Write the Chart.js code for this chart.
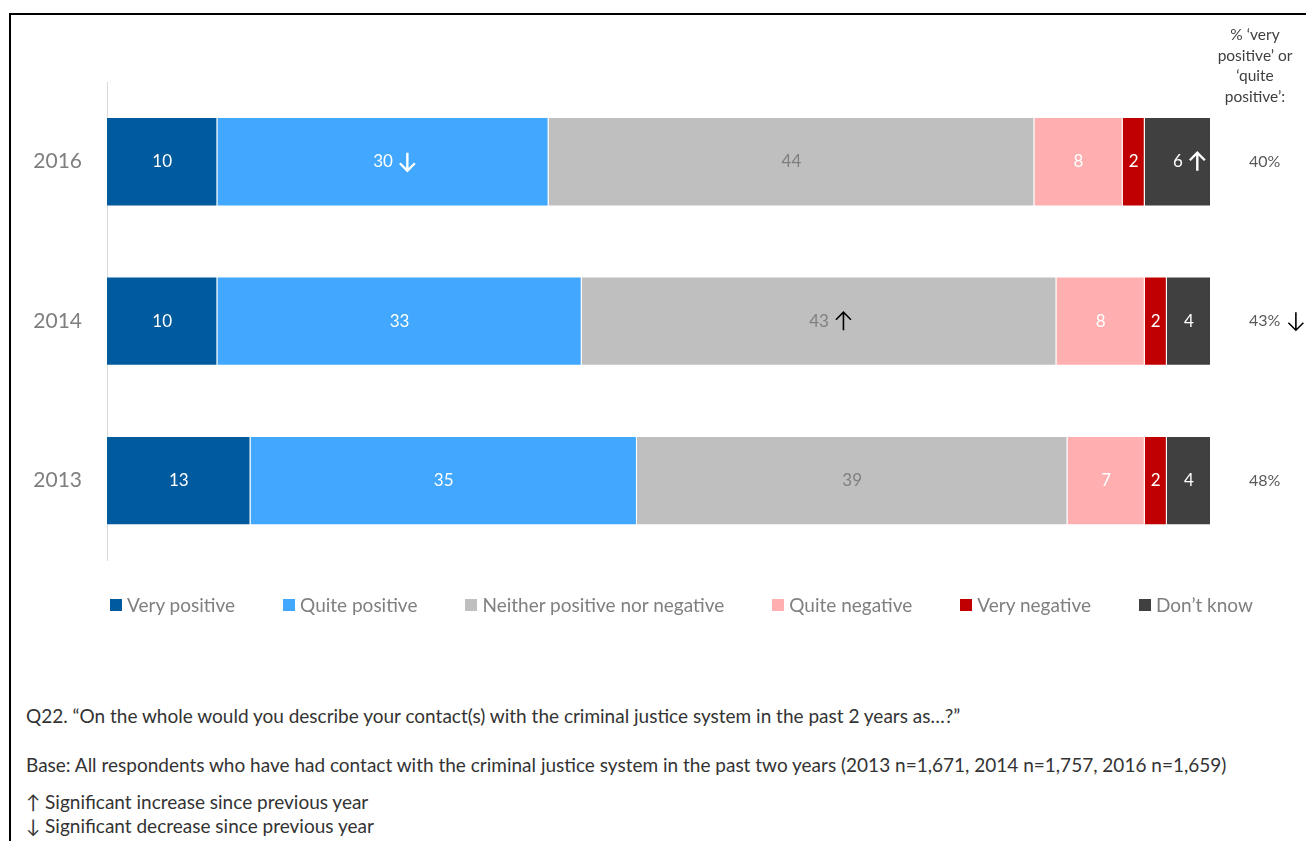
<!DOCTYPE html>
<html>
<head>
<meta charset="utf-8">
<title>Contato com o sistema de justiça criminal</title>
<script src="https://cdn.jsdelivr.net/npm/chart.js@4.4.1/dist/chart.umd.min.js"></script>
<style>
    body { margin: 0; background: #fff; font-family: Lato, 'Open Sans', sans-serif; }
    #pagina { position: relative; width: 1306px; height: 841px; overflow: hidden; }
    #moldura { position: absolute; left: 9px; top: 13px; right: 0; bottom: 0; border-top: 2px solid #000; border-left: 2px solid #000; }
    #grafico-box { position: absolute; left: 0; top: 0; width: 1306px; height: 608px; }
    #cabecalho { position: absolute; left: 1200px; top: 24px; width: 110px; text-align: center; font-size: 15.5px; line-height: 20.5px; color: #404040; }
    #legenda { position: absolute; left: 110px; top: 594px; display: flex; gap: 48px; font-size: 19px; color: #7f7f7f; line-height: 22px; white-space: nowrap; }
    .item { display: flex; align-items: center; }
    .cor { width: 12px; height: 12px; margin-right: 5px; display: inline-block; }
    .nota { position: absolute; left: 26px; font-size: 19px; color: #333; white-space: nowrap; line-height: 22px; }
</style>
</head>
<body>
<div id="pagina">
    <div id="moldura"></div>
    <div id="grafico-box"><canvas id="grafico"></canvas></div>
    <div id="cabecalho">% ‘very<br>positive’ or<br>‘quite<br>positive’:</div>
    <div id="legenda"></div>
    <div class="nota" style="top:705px">Q22. “On the whole would you describe your contact(s) with the criminal justice system in the past 2 years as…?”</div>
    <div class="nota" style="top:754px">Base: All respondents who have had contact with the criminal justice system in the past two years (2013 n=1,671, 2014 n=1,757, 2016 n=1,659)</div>
    <div class="nota" style="top:791px">↑ Significant increase since previous year</div>
    <div class="nota" style="top:815px">↓ Significant decrease since previous year</div>
</div>
<script>
const anos = ['2016', '2014', '2013'];
const categorias = ['Very positive', 'Quite positive', 'Neither positive nor negative', 'Quite negative', 'Very negative', 'Don’t know'];
const muitoPositivo = [10, 10, 13];
const bastantePositivo = [30, 33, 35];
const nemNem = [44, 43, 39];
const bastanteNegativo = [8, 8, 7];
const muitoNegativo = [2, 2, 2];
const naoSabe = [6, 4, 4];
const positivos = ['40%', '43%', '48%'];
// setas de significância ('up' = aumento, 'down' = queda)
const sigMuitoPositivo = ['', '', ''];
const sigBastantePositivo = ['down', '', ''];
const sigNemNem = ['', 'up', ''];
const sigBastanteNegativo = ['', '', ''];
const sigMuitoNegativo = ['', '', ''];
const sigNaoSabe = ['up', '', ''];
const sigPositivos = ['', 'down', ''];

const cores = ['#005A9E', '#41A7FF', '#BFBFBF', '#FFAFAF', '#C00000', '#404040'];
const coresTexto = ['#fff', '#fff', '#7f7f7f', '#fff', '#fff', '#fff'];
const coresSeta = ['#fff', '#fff', '#000', '#fff', '#fff', '#fff'];

const valores = [muitoPositivo, bastantePositivo, nemNem, bastanteNegativo, muitoNegativo, naoSabe];
const sinais = [sigMuitoPositivo, sigBastantePositivo, sigNemNem, sigBastanteNegativo, sigMuitoNegativo, sigNaoSabe];

Chart.defaults.font.family = 'Lato, "Open Sans", sans-serif';

// legenda em html
const legenda = document.getElementById('legenda');
categorias.forEach((nome, i) => {
    legenda.innerHTML += `<div class="item"><span class="cor" style="background:${cores[i]}"></span>${nome}</div>`;
});

// seta desenhada com linhas, x = borda esquerda
function desenharSeta(ctx, sig, x, y, cor, espessura) {
    const w = 15, h = 18;
    const cx = x + w / 2, topo = y - h / 2, fundo = y + h / 2;
    ctx.save();
    ctx.strokeStyle = cor;
    ctx.lineWidth = espessura;
    ctx.beginPath();
    ctx.moveTo(cx, topo);
    ctx.lineTo(cx, fundo);
    if (sig === 'up') {
        ctx.moveTo(cx - w / 2, topo + w / 2);
        ctx.lineTo(cx, topo);
        ctx.lineTo(cx + w / 2, topo + w / 2);
    } else {
        ctx.moveTo(cx - w / 2, fundo - w / 2);
        ctx.lineTo(cx, fundo);
        ctx.lineTo(cx + w / 2, fundo - w / 2);
    }
    ctx.stroke();
    ctx.restore();
}

const rotulos = {
    id: 'rotulos',
    afterDatasetsDraw(chart) {
        const ctx = chart.ctx;
        ctx.save();
        ctx.textBaseline = 'middle';
        chart.data.datasets.forEach((ds, d) => {
            const meta = chart.getDatasetMeta(d);
            meta.data.forEach((barra, i) => {
                const { x, base, y } = barra.getProps(['x', 'base', 'y'], true);
                const centro = (x + base) / 2;
                const texto = String(ds.data[i]);
                ctx.font = '17px Lato';
                ctx.textAlign = 'center';
                ctx.fillStyle = coresTexto[d];
                ctx.fillText(texto, centro, y);
                if (sinais[d][i]) {
                    const w = ctx.measureText(texto).width;
                    const cor = coresSeta[d];
                    desenharSeta(ctx, sinais[d][i], centro + w / 2 + 7, y, cor, cor === '#000' ? 1.6 : 2.4);
                }
            });
        });
        const eixo = chart.scales.y2;
        positivos.forEach((p, i) => {
            if (!sigPositivos[i]) return;
            ctx.font = '16px Lato';
            const w = ctx.measureText(p).width;
            desenharSeta(ctx, sigPositivos[i], eixo.left + eixo.options.ticks.padding + w + 8, eixo.getPixelForValue(i), '#000', 1.6);
        });
        ctx.restore();
    }
};

const ctx = document.getElementById('grafico').getContext('2d');
window.graficoChart = new Chart(ctx, {
    type: 'bar',
    data: {
        labels: anos,
        datasets: categorias.map((nome, i) => ({
            label: nome,
            data: valores[i],
            backgroundColor: cores[i],
            borderColor: 'rgba(255,255,255,0.4)',
            borderWidth: 1,
            barPercentage: 0.56,
            categoryPercentage: 1
        }))
    },
    options: {
        indexAxis: 'y',
        responsive: true,
        maintainAspectRatio: false,
        animation: false,
        layout: { padding: { top: 82, bottom: 0, left: 0, right: 0 } },
        plugins: {
            legend: { display: false },
            tooltip: { enabled: false }
        },
        scales: {
            x: {
                stacked: true,
                min: 0,
                max: 100,
                display: false
            },
            y: {
                stacked: true,
                afterFit: scale => { scale.width = 107; },
                grid: { display: false, drawTicks: false },
                border: { display: true, color: '#d9d9d9', width: 1 },
                ticks: { color: '#7f7f7f', padding: 25, font: { size: 21 } }
            },
            y2: {
                type: 'category',
                position: 'right',
                labels: positivos,
                offset: true,
                afterFit: scale => { scale.width = 95; },
                grid: { display: false, drawTicks: false },
                border: { display: false },
                ticks: { color: '#595959', padding: 38, font: { size: 16 } }
            }
        }
    },
    plugins: [rotulos]
});
</script>
</body>
</html>
